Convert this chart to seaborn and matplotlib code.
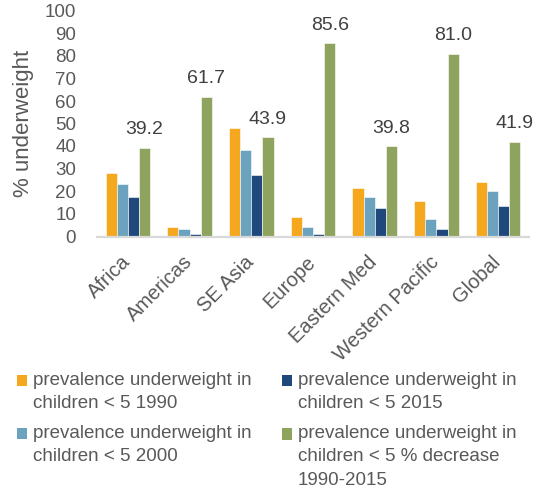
import matplotlib
matplotlib.use("Agg")
import matplotlib.pyplot as plt
import matplotlib.transforms as mtransforms
import seaborn as sns
import pandas as pd
from matplotlib.patches import Patch, Rectangle
from matplotlib.legend_handler import HandlerPatch

regions = ["Africa", "Americas", "SE Asia", "Europe", "Eastern Med", "Western Pacific", "Global"]
prev_1990 = [27.9, 3.9, 48.0, 8.6, 21.2, 15.4, 24.0]
prev_2000 = [23.1, 3.0, 38.4, 3.9, 17.3, 7.7, 20.1]
prev_2015 = [17.2, 1.0, 27.0, 1.0, 12.4, 3.0, 13.5]
pct_decrease = [39.2, 61.7, 43.9, 85.6, 39.8, 81.0, 41.9]
series_names = [
    "prevalence underweight in\nchildren < 5 1990",
    "prevalence underweight in\nchildren < 5 2000",
    "prevalence underweight in\nchildren < 5 2015",
    "prevalence underweight in\nchildren < 5 % decrease\n1990-2015",
]
colors = ["#F5A71E", "#6BA3BE", "#1F497D", "#8EA45E"]
yticks = [0, 10, 20, 30, 40, 50, 60, 70, 80, 90, 100]

rows = []
for name, vals in zip(series_names, [prev_1990, prev_2000, prev_2015, pct_decrease]):
    for r, v in zip(regions, vals):
        rows.append({"region": r, "series": name, "value": v})
df = pd.DataFrame(rows)

sns.set_theme(style="white")
plt.rcParams["font.family"] = ["Liberation Sans", "DejaVu Sans"]

fig = plt.figure(figsize=(5.44, 4.90), dpi=100)
ax = fig.add_axes([97/544, 1 - 236/490, 432/544, 225/490])

sns.barplot(data=df, x="region", y="value", hue="series", palette=colors,
            saturation=1, width=0.72, edgecolor="white", linewidth=0.4,
            ax=ax, legend=False)

ax.set_ylim(0, 100)
ax.set_xlim(-0.5, len(regions) - 0.5)
ax.set_yticks(yticks)
ax.set_yticklabels([str(t) for t in yticks])
for s in ["top", "right", "left"]:
    ax.spines[s].set_visible(False)
ax.spines["bottom"].set_color("#d9d9d9")
ax.spines["bottom"].set_linewidth(1.6)
ax.spines["bottom"].set_position(("outward", 1))
ax.tick_params(axis="y", length=0, pad=15, labelsize=13.5, labelcolor="#595959")
ax.tick_params(axis="x", length=0, pad=10, labelsize=14.5, labelcolor="#595959")
shift = mtransforms.ScaledTranslation(-7 / 100, -1 / 100, fig.dpi_scale_trans)
for lab in ax.get_xticklabels():
    lab.set_rotation(45)
    lab.set_ha("right")
    lab.set_va("top")
    lab.set_rotation_mode("anchor")
    lab.set_transform(lab.get_transform() + shift)

ax.set_xlabel("")
ax.set_ylabel("% underweight", fontsize=16, color="#595959")
ax.yaxis.set_label_coords(-0.146, 0.5)

ax.bar_label(ax.containers[3], labels=[f"{v:.1f}" for v in pct_decrease],
             padding=7, fontsize=14, color="#404040")

LEG_FS = 13.5
LINESP = 1.49
PITCH = 16.4  # points between text lines


def top_aligned_patch(legend, orig_handle, xdescent, ydescent, width, height, fontsize):
    n = getattr(orig_handle, "_nlines", 1)
    off = (n - 1) / 2 * PITCH
    return Rectangle((-xdescent, -ydescent + off), width, height)


handles = []
for c, name in zip(colors, series_names):
    p = Patch(facecolor=c, edgecolor="none")
    p._nlines = name.count("\n") + 1
    handles.append(p)

leg = fig.legend(handles, series_names, loc="upper left", bbox_to_anchor=(17/544, 1 - 372/490),
                 ncol=2, frameon=False, fontsize=LEG_FS, labelcolor="#595959",
                 handlelength=0.55, handleheight=0.55, handletextpad=0.3,
                 columnspacing=1.6, labelspacing=0.68, borderpad=0, borderaxespad=0,
                 handler_map={Patch: HandlerPatch(patch_func=top_aligned_patch)})
for t in leg.get_texts():
    t.set_linespacing(LINESP)

fig.savefig("out.png", dpi=100)
